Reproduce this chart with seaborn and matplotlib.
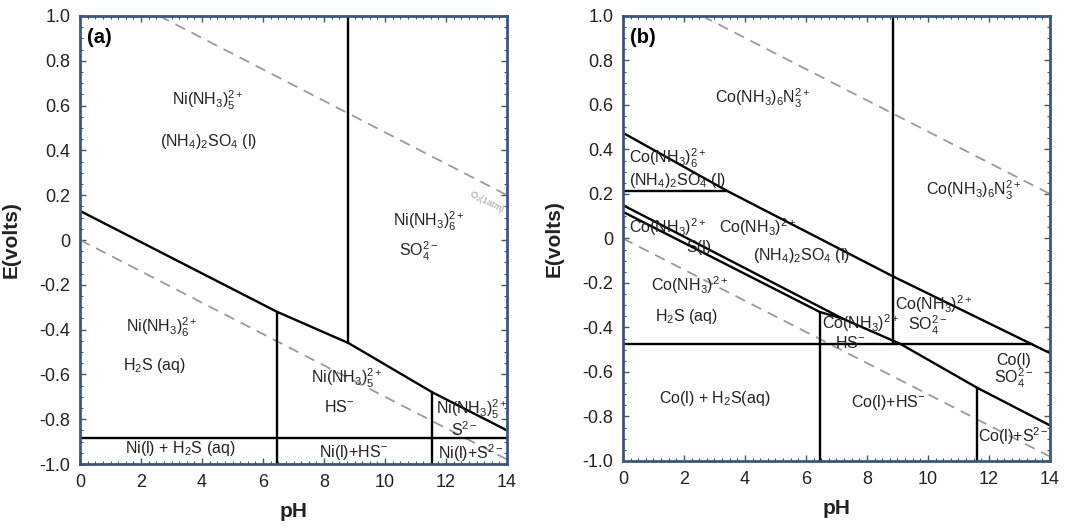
import numpy as np
import pandas as pd
import matplotlib
matplotlib.use("Agg")
import matplotlib.pyplot as plt
from matplotlib.ticker import FixedLocator, FixedFormatter, MultipleLocator
import seaborn as sns

# ---------------- axis ticks ----------------
PH_TICKS = [0, 2, 4, 6, 8, 10, 12, 14]
E_TICKS = [1.0, 0.8, 0.6, 0.4, 0.2, 0.0, -0.2, -0.4, -0.6, -0.8, -1.0]
E_TICK_LABELS = ["1.0", "0.8", "0.6", "0.4", "0.2", "0", "-0.2", "-0.4", "-0.6", "-0.8", "-1.0"]

# ---------------- water stability limits (dashed) ----------------
O2_PH = [2.6, 14.0]
O2_E = [1.0, 0.20]
H2_PH = [0.0, 14.0]
H2_E = [0.0, -0.98]

# ---------------- (a) Ni-NH3-S-H2O boundaries ----------------
A_MAIN_PH = [0.0, 6.45, 8.8, 11.55, 14.0]
A_MAIN_E = [0.13, -0.32, -0.46, -0.68, -0.85]
A_V1_PH = [8.8, 8.8]
A_V1_E = [1.0, -0.46]
A_V2_PH = [6.45, 6.45]
A_V2_E = [-0.32, -1.0]
A_V3_PH = [11.55, 11.55]
A_V3_E = [-0.68, -1.0]
A_H1_PH = [0.0, 14.0]
A_H1_E = [-0.885, -0.885]

A_LABELS = [
    r"Ni(NH$_3$)$_5^{2+}$", r"(NH$_4$)$_2$SO$_4$ (l)", r"Ni(NH$_3$)$_6^{2+}$", r"SO$_4^{2-}$",
    r"Ni(NH$_3$)$_6^{2+}$", r"H$_2$S (aq)", r"Ni(NH$_3$)$_5^{2+}$", r"HS$^{-}$",
    r"Ni(NH$_3$)$_5^{2+}$", r"S$^{2-}$",
    r"Ni(l) + H$_2$S (aq)", r"Ni(l)+HS$^{-}$", r"Ni(l)+S$^{2-}$",
]
A_LABEL_PH = [4.2, 4.2, 11.45, 11.1, 2.7, 2.45, 8.75, 8.5, 12.85, 12.6, 3.3, 8.95, 12.8]
A_LABEL_E = [0.625, 0.44, 0.085, -0.05, -0.39, -0.56, -0.62, -0.745, -0.755, -0.848, -0.93, -0.95, -0.95]

# ---------------- (b) Co-NH3-S-H2O boundaries ----------------
B_TOP_PH = [0.0, 3.4, 8.85, 14.0]
B_TOP_E = [0.475, 0.215, -0.17, -0.515]
B_SUP_PH = [0.0, 7.2]
B_SUP_E = [0.15, -0.36]
B_SLO_PH = [0.0, 6.45, 7.2, 9.1, 11.6, 14.0]
B_SLO_E = [0.12, -0.33, -0.36, -0.474, -0.67, -0.84]
B_H1_PH = [0.0, 3.4]
B_H1_E = [0.215, 0.215]
B_H2_PH = [0.0, 13.4]
B_H2_E = [-0.474, -0.474]
B_V1_PH = [8.85, 8.85]
B_V1_E = [1.0, -0.474]
B_V2_PH = [6.45, 6.45]
B_V2_E = [-0.33, -1.0]
B_V3_PH = [11.6, 11.6]
B_V3_E = [-0.67, -1.0]

B_LABELS_C = [
    r"Co(NH$_3$)$_6$N$_3^{2+}$", r"Co(NH$_3$)$_6$N$_3^{2+}$", "S(l)", r"Co(NH$_3$)$^{2+}$",
    r"(NH$_4$)$_2$SO$_4$ (l)", r"Co(NH$_3$)$^{2+}$", r"H$_2$S (aq)", r"Co(NH$_3$)$^{2+}$",
    r"HS$^{-}$", r"Co(NH$_3$)$^{2+}$", r"SO$_4^{2-}$", "Co(l)", r"SO$_4^{2-}$",
    r"Co(l) + H$_2$S(aq)", r"Co(l)+HS$^{-}$", r"Co(l)+S$^{2-}$",
]
B_LABEL_C_PH = [4.6, 11.5, 2.5, 4.4, 5.85, 2.2, 2.1, 7.8, 7.45, 10.2, 10.0, 12.8, 12.8, 3.0, 8.7, 12.8]
B_LABEL_C_E = [0.63, 0.218, -0.04, 0.05, -0.075, -0.21, -0.35, -0.38, -0.468, -0.295, -0.39,
               -0.55, -0.63, -0.72, -0.735, -0.89]
B_LABELS_L = [r"Co(NH$_3$)$_6^{2+}$", r"(NH$_4$)$_2$SO$_4$ (l)", r"Co(NH$_3$)$^{2+}$"]
B_LABEL_L_PH = [0.2, 0.2, 0.2]
B_LABEL_L_E = [0.36, 0.26, 0.05]

FRAME = "#3b5878"
TEXT = "#222222"

sns.set_theme(style="white")
plt.rcParams["font.family"] = ["Liberation Sans", "DejaVu Sans"]
plt.rcParams["mathtext.fontset"] = "custom"
plt.rcParams["mathtext.rm"] = "Liberation Sans"
plt.rcParams["mathtext.it"] = "Liberation Sans:italic"
plt.rcParams["mathtext.bf"] = "Liberation Sans:bold"


def segments_frame(*pairs):
    rows = []
    for k, (ph, e) in enumerate(pairs):
        for x, y in zip(ph, e):
            rows.append({"seg": k, "pH": x, "E": y})
    return pd.DataFrame(rows)


def draw_panel(ax, solid_pairs, tag, labels_c, lab_ph, lab_e, labels_l=None, ll_ph=None, ll_e=None):
    water = segments_frame((O2_PH, O2_E), (H2_PH, H2_E))
    sns.lineplot(data=water, x="pH", y="E", units="seg", estimator=None, sort=False,
                 color="#9a9a9a", lw=1.3, linestyle=(0, (6, 4)), ax=ax, legend=False)
    solid = segments_frame(*solid_pairs)
    sns.lineplot(data=solid, x="pH", y="E", units="seg", estimator=None, sort=False,
                 color="black", lw=1.7, ax=ax, legend=False)

    for t, x, y in zip(labels_c, lab_ph, lab_e):
        ax.text(x, y, t, ha="center", va="center", fontsize=11.5, color=TEXT)
    if labels_l:
        for t, x, y in zip(labels_l, ll_ph, ll_e):
            ax.text(x, y, t, ha="left", va="center", fontsize=11.5, color=TEXT)

    ax.text(0.22, 0.905, tag, ha="left", va="center", fontsize=14.5, fontweight="bold", color="black")

    ax.set_xlim(0, 14)
    ax.set_ylim(-1.0, 1.0)
    ax.xaxis.set_major_locator(FixedLocator(PH_TICKS))
    ax.xaxis.set_major_formatter(FixedFormatter([str(v) for v in PH_TICKS]))
    ax.yaxis.set_major_locator(FixedLocator(E_TICKS))
    ax.yaxis.set_major_formatter(FixedFormatter(E_TICK_LABELS))
    ax.xaxis.set_minor_locator(MultipleLocator(0.25))
    ax.yaxis.set_minor_locator(MultipleLocator(0.05))
    ax.tick_params(which="both", direction="in", top=True, right=True, bottom=True, left=True,
                   color=FRAME, labelsize=13, labelcolor=TEXT)
    ax.tick_params(which="major", length=4, width=1.0, pad=7)
    ax.tick_params(which="minor", length=2, width=0.8)
    for s in ax.spines.values():
        s.set_color(FRAME)
        s.set_linewidth(2.0)
    ax.set_xlabel("pH", fontsize=15, fontweight="bold", color=TEXT)
    ax.set_ylabel("E(volts)", fontsize=15, fontweight="bold", color=TEXT)
    ax.xaxis.set_label_coords(0.5, -0.085)
    ax.yaxis.set_label_coords(-0.14, 0.5)
    ax.grid(False)


fig = plt.figure(figsize=(10.83, 5.28), dpi=100)
ax_a = fig.add_axes([0.0739, 0.1212, 0.3943, 0.8485])
ax_b = fig.add_axes([0.5752, 0.1269, 0.3943, 0.8428])

draw_panel(ax_a,
           [(A_MAIN_PH, A_MAIN_E), (A_V1_PH, A_V1_E), (A_V2_PH, A_V2_E),
            (A_V3_PH, A_V3_E), (A_H1_PH, A_H1_E)],
           "(a)", A_LABELS, A_LABEL_PH, A_LABEL_E)
ax_a.text(13.35, 0.17, r"O$_2$(1atm)", ha="center", va="center", fontsize=6.5,
          color="#9a9a9a", rotation=-27)

draw_panel(ax_b,
           [(B_TOP_PH, B_TOP_E), (B_SUP_PH, B_SUP_E), (B_SLO_PH, B_SLO_E),
            (B_H1_PH, B_H1_E), (B_H2_PH, B_H2_E), (B_V1_PH, B_V1_E),
            (B_V2_PH, B_V2_E), (B_V3_PH, B_V3_E)],
           "(b)", B_LABELS_C, B_LABEL_C_PH, B_LABEL_C_E,
           B_LABELS_L, B_LABEL_L_PH, B_LABEL_L_E)

fig.savefig("out.png", dpi=100, facecolor="white")
